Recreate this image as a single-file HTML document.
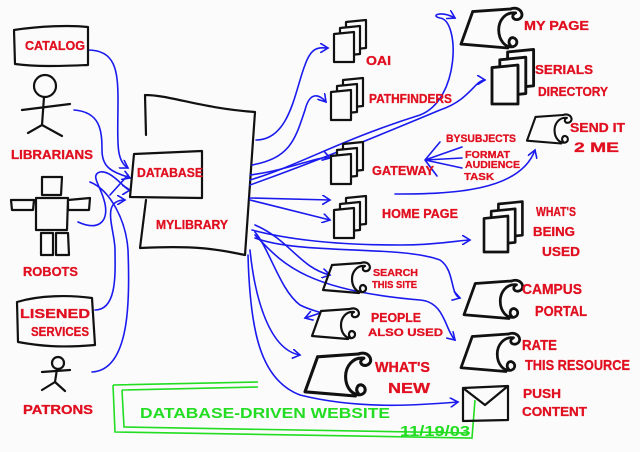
<!DOCTYPE html>
<html><head><meta charset="utf-8"><style>
html,body{margin:0;padding:0;background:#fbfbfb;}
svg{display:block}
text{font-family:"Liberation Sans",sans-serif;font-weight:bold;}
.r{fill:#e01020;font-size:13px;stroke:#e01020;stroke-width:0.3}
.k{fill:none;stroke:#111;stroke-width:2.2;stroke-linejoin:round;stroke-linecap:round}
.b{fill:none;stroke:#1a1aee;stroke-width:1.6;stroke-linecap:round}
.g{fill:#22dd22;font-size:15px}
</style></head><body>
<svg width="640" height="452" viewBox="0 0 640 452" xmlns="http://www.w3.org/2000/svg">
<defs>
<g id="stack">
<path class="k" d="M12 0 L32 -2 L32 26 L12 28 Z" style="fill:#fbfbfb"/>
<path class="k" d="M6 6 L26 4 L26 32 L6 34 Z" style="fill:#fbfbfb"/>
<path class="k" d="M0 12 L20 10 L20 40 L0 40 Z" style="fill:#fbfbfb"/>
</g>
<g id="scroll">
<path class="k" d="M9 2 L38 0 M9 2 L0 27 L36 30"/>
<path class="k" d="M38 0 C46 -3 50 6 44 8 C40 9 38 5 42 3 M42 3 C34 2 29 9 29 16 C29 24 34 30 40 29 C44 28 44 23 40 22 C37 22 36 26 38 28"/>
</g>
<marker id="ah" markerWidth="10" markerHeight="10" refX="8" refY="5" orient="auto" markerUnits="userSpaceOnUse">
<path d="M0 0 L8 5 L0 10" fill="none" stroke="#1a1aee" stroke-width="1.6"/>
</marker>
</defs>

<!-- green box -->
<path d="M113 385 L258 382 M113 385 L115 432 L472 438 L475 400" fill="none" stroke="#22dd22" stroke-width="1.6"/>
<path d="M122 390 L258 387 M122 390 L124 427 L470 433" fill="none" stroke="#22dd22" stroke-width="1.6"/>
<text class="g" x="140" y="418" textLength="250" lengthAdjust="spacingAndGlyphs">DATABASE-DRIVEN WEBSITE</text>
<text class="g" x="400" y="436" textLength="70" lengthAdjust="spacingAndGlyphs">11/19/03</text>

<!-- blue connectors left -->
<path class="b" d="M88 50 C115 50 118 70 118 100 C118 140 115 160 128 168" marker-end="url(#ah)"/>
<path class="b" d="M74 110 C100 112 102 130 102 150 C102 170 115 172 130 178" marker-end="url(#ah)"/>
<path class="b" d="M78 222 C100 232 110 220 104 200 C100 185 90 175 100 172 C112 170 125 190 130 190" marker-end="url(#ah)"/>
<path class="b" d="M95 310 C118 310 115 270 115 250 C115 230 100 200 125 200" marker-end="url(#ah)"/>
<path class="b" d="M92 372 C130 370 130 300 128 250 C126 220 110 190 90 182" />
<path class="b" d="M110 195 L128 175"/>
<!-- database page -->
<path class="k" d="M145 95 C170 95 200 108 255 112 L245 255 C220 250 200 245 140 248 L146 200 M145 95 L146 135"/>
<path class="k" d="M134 154 L202 151 L202 198 L130 197 Z" style="fill:#fbfbfb"/>
<text class="r" x="137" y="177" textLength="66" lengthAdjust="spacingAndGlyphs">DATABASE</text>
<text class="r" x="156" y="229" textLength="72" lengthAdjust="spacingAndGlyphs">MYLIBRARY</text>

<!-- left entities -->
<path class="k" d="M14 30 C40 26 70 25 88 27 L88 65 C60 66 40 67 15 64 Z"/>
<text class="r" x="25" y="50" textLength="60" lengthAdjust="spacingAndGlyphs">CATALOG</text>
<circle class="k" cx="45" cy="86" r="11"/>
<path class="k" d="M44 97 L42 125 M22 110 L70 104 M42 125 L28 133 M42 125 L62 136"/>
<text class="r" x="11" y="159" textLength="82" lengthAdjust="spacingAndGlyphs">LIBRARIANS</text>
<path class="k" d="M42 177 L62 177 L61 195 L42 195 Z M36 198 L68 198 L67 230 L36 230 Z M11 200 L34 200 L33 210 L12 210 Z M68 200 L90 198 L89 210 L68 210 Z M41 233 L53 233 L53 255 L41 255 Z M56 233 L68 233 L69 255 L56 255 Z"/>
<text class="r" x="23" y="276" textLength="55" lengthAdjust="spacingAndGlyphs">ROBOTS</text>
<path class="k" d="M17 302 C40 295 70 295 92 298 L95 345 C60 348 40 346 18 342 Z"/>
<text class="r" x="20" y="318" textLength="70" lengthAdjust="spacingAndGlyphs">LISENED</text>
<text class="r" x="31" y="336" textLength="58" lengthAdjust="spacingAndGlyphs">SERVICES</text>
<circle class="k" cx="58" cy="363" r="6"/>
<path class="k" d="M57 369 L55 382 M42 372 L70 370 M55 382 L42 390 M55 382 L65 391"/>
<text class="r" x="23" y="414" textLength="70" lengthAdjust="spacingAndGlyphs">PATRONS</text>

<!-- blue connectors right -->
<path class="b" d="M256 140 C290 140 295 90 305 65 C312 45 320 48 328 48" marker-end="url(#ah)"/>
<path class="b" d="M252 165 C290 158 295 140 305 110 C310 90 320 95 326 102" marker-end="url(#ah)"/>
<path class="b" d="M250 175 C290 170 320 155 330 158" marker-end="url(#ah)"/>
<path class="b" d="M250 180 C300 165 340 140 420 115 C460 100 460 20 440 18 C430 16 440 10 455 18" marker-end="url(#ah)"/>
<path class="b" d="M250 185 C320 160 380 135 440 110 C470 100 475 80 485 80" marker-end="url(#ah)"/>
<path class="b" d="M250 198 L330 200" marker-end="url(#ah)"/>
<path class="b" d="M250 200 L330 220" marker-end="url(#ah)"/>
<path class="b" d="M395 194 C450 194 520 192 535 150" marker-end="url(#ah)"/>
<path class="b" d="M252 230 C290 240 340 245 400 245 C440 245 460 240 470 240" marker-end="url(#ah)"/>
<path class="b" d="M255 225 C290 240 300 268 330 275" marker-end="url(#ah)"/>
<path class="b" d="M255 238 C300 255 400 245 440 260 C455 270 450 295 460 298" marker-end="url(#ah)"/>
<path class="b" d="M255 232 C270 250 280 290 300 305 C320 315 330 310 305 318" marker-end="url(#ah)"/>
<path class="b" d="M255 235 C280 260 300 290 420 300 C445 302 445 330 455 340" marker-end="url(#ah)"/>
<path class="b" d="M250 250 C255 300 270 350 300 355" marker-end="url(#ah)"/>
<path class="b" d="M248 255 C250 330 260 380 300 395 C360 410 420 405 458 402" marker-end="url(#ah)"/>
<path class="b" d="M440 142 L425 160 L437 176 M425 160 L462 147 M425 160 L462 158 M425 160 L462 168"/>

<!-- right items -->
<use href="#stack" x="334" y="22"/>
<text class="r" x="366" y="65" textLength="25" lengthAdjust="spacingAndGlyphs">OAI</text>
<use href="#stack" x="331" y="80"/>
<text class="r" x="369" y="103" textLength="83" lengthAdjust="spacingAndGlyphs">PATHFINDERS</text>
<use href="#stack" x="331" y="144"/>
<text class="r" x="372" y="175" textLength="62" lengthAdjust="spacingAndGlyphs">GATEWAY</text>
<text class="r" x="446" y="142" textLength="70" lengthAdjust="spacingAndGlyphs" style="font-size:11px">BYSUBJECTS</text>
<text class="r" x="465" y="158" textLength="45" lengthAdjust="spacingAndGlyphs" style="font-size:10px">FORMAT</text>
<text class="r" x="465" y="168" textLength="55" lengthAdjust="spacingAndGlyphs" style="font-size:10px">AUDIENCE</text>
<text class="r" x="464" y="180" textLength="30" lengthAdjust="spacingAndGlyphs" style="font-size:10px">TASK</text>
<use href="#stack" x="334" y="198"/>
<text class="r" x="382" y="218" textLength="76" lengthAdjust="spacingAndGlyphs">HOME PAGE</text>
<use href="#scroll" x="323" y="263"/>
<text class="r" x="373" y="276" textLength="45" lengthAdjust="spacingAndGlyphs" style="font-size:10px">SEARCH</text>
<text class="r" x="372" y="288" textLength="45" lengthAdjust="spacingAndGlyphs" style="font-size:10px">THIS SITE</text>
<use href="#scroll" x="312" y="309"/>
<text class="r" x="371" y="322" textLength="50" lengthAdjust="spacingAndGlyphs">PEOPLE</text>
<text class="r" x="368" y="336" textLength="75" lengthAdjust="spacingAndGlyphs" style="font-size:11px">ALSO USED</text>
<g transform="translate(305 354) scale(1.4)"><use href="#scroll"/></g>
<text class="r" x="375" y="372" textLength="55" lengthAdjust="spacingAndGlyphs" style="font-size:15px">WHAT'S</text>
<text class="r" x="388" y="393" textLength="42" lengthAdjust="spacingAndGlyphs" style="font-size:15px">NEW</text>
<g transform="translate(461 9) scale(1.3)"><use href="#scroll"/></g>
<text class="r" x="524" y="30" textLength="65" lengthAdjust="spacingAndGlyphs">MY PAGE</text>
<g transform="translate(492 52) scale(1.3)"><use href="#stack"/></g>
<text class="r" x="535" y="74" textLength="58" lengthAdjust="spacingAndGlyphs">SERIALS</text>
<text class="r" x="538" y="96" textLength="70" lengthAdjust="spacingAndGlyphs">DIRECTORY</text>
<g transform="translate(527 115) scale(0.95)"><use href="#scroll"/></g>
<text class="r" x="570" y="132" textLength="55" lengthAdjust="spacingAndGlyphs">SEND IT</text>
<text class="r" x="574" y="152" textLength="45" lengthAdjust="spacingAndGlyphs" style="font-size:14px">2 ME</text>
<g transform="translate(484 204) scale(1.2)"><use href="#stack"/></g>
<text class="r" x="536" y="216" textLength="40" lengthAdjust="spacingAndGlyphs">WHAT'S</text>
<text class="r" x="533" y="236" textLength="42" lengthAdjust="spacingAndGlyphs">BEING</text>
<text class="r" x="542" y="256" textLength="38" lengthAdjust="spacingAndGlyphs">USED</text>
<g transform="translate(464 281) scale(1.25)"><use href="#scroll"/></g>
<text class="r" x="522" y="294" textLength="60" lengthAdjust="spacingAndGlyphs" style="font-size:15px">CAMPUS</text>
<text class="r" x="535" y="316" textLength="52" lengthAdjust="spacingAndGlyphs" style="font-size:15px">PORTAL</text>
<g transform="translate(461 334) scale(1.25)"><use href="#scroll"/></g>
<text class="r" x="522" y="350" textLength="35" lengthAdjust="spacingAndGlyphs" style="font-size:15px">RATE</text>
<text class="r" x="525" y="370" textLength="105" lengthAdjust="spacingAndGlyphs" style="font-size:15px">THIS RESOURCE</text>
<path class="k" d="M463 388 L508 386 L508 420 L463 421 Z M463 388 L485 405 L508 386"/>
<text class="r" x="523" y="398" textLength="38" lengthAdjust="spacingAndGlyphs">PUSH</text>
<text class="r" x="522" y="416" textLength="65" lengthAdjust="spacingAndGlyphs">CONTENT</text>
</svg>
</body></html>
